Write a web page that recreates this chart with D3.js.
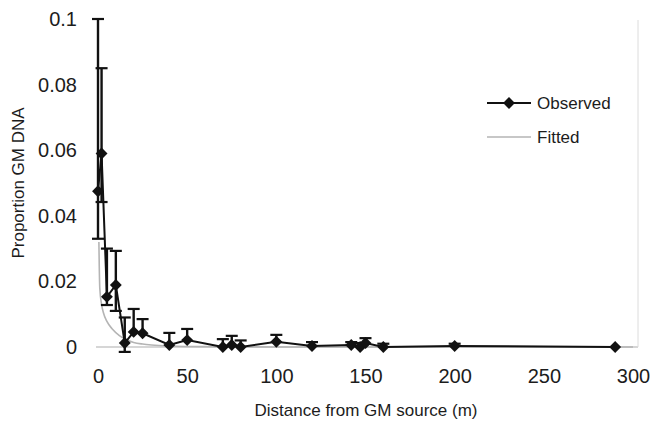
<!DOCTYPE html>
<head>
  <meta charset="utf-8">
  <script src="https://d3js.org/d3.v7.min.js"></script>
  <style>
    body { margin: 0; background: #fff; }
    svg { width: 657px; height: 423px; font-family: "Liberation Sans", Arial, sans-serif; }
  </style>
</head>

<body>
  <svg></svg>

  <script>
    // observed proportions with error bar ends
    const distance   = [0, 2, 5, 10, 15, 20, 25, 40, 50, 70, 75, 80, 100, 120, 142, 147, 150, 160, 200, 290];
    const proportion = [0.0475, 0.059, 0.0153, 0.0189, 0.0012, 0.0046, 0.0042, 0.0006, 0.0021, 0.0, 0.0006, 0.0,
                        0.0016, 0.0003, 0.0006, 0.0, 0.0012, 0.0, 0.0003, 0.0];
    const upper      = [0.1, 0.085, 0.030, 0.0293, 0.009, 0.0116, 0.0085, 0.0043, 0.0055, 0.0024, 0.0034, 0.002,
                        0.0037, 0.0015, 0.0015, 0.0012, 0.0027, 0.001, 0.001, 0.0];
    const lower      = [0.033, 0.0442, 0.0128, 0.011, -0.0015, 0.0046, 0.0042, 0.0006, 0.0021, 0.0, 0.0006, 0.0,
                        0.0016, 0.0003, 0.0006, 0.0, 0.0012, 0.0, 0.0003, 0.0];

    // fitted curve, read at a handful of distances
    const fitDistance = [0.5, 1, 2, 3, 5, 8, 12, 16, 20, 25, 30, 40, 60, 100, 200, 300];
    const fitValue    = [0.032, 0.018, 0.013, 0.0105, 0.0078, 0.0055, 0.0035, 0.0022, 0.0014, 0.0009, 0.0006,
                         0.0003, 0.0001, 0.0, 0.0, 0.0];

    const xTicks = [0, 50, 100, 150, 200, 250, 300];
    const yTicks = [0, 0.02, 0.04, 0.06, 0.08, 0.1];

    const svg = d3.select('svg');

    const x = d3.scaleLinear().domain([0, 300]).range([98, 633]);
    const y = d3.scaleLinear().domain([0, 0.1]).range([347, 19]);

    const observed = distance.map((d, i) => ({
      x: d, y: proportion[i], hi: upper[i], lo: lower[i]
    }));
    const fitted = fitDistance.map((d, i) => ({ x: d, y: fitValue[i] }));

    // plot frame: bottom axis line and right border
    svg.append('line')
      .attr('x1', x(0) - 2).attr('x2', 638)
      .attr('y1', y(0)).attr('y2', y(0))
      .attr('stroke', '#c8c8c8').attr('stroke-width', 1.5);
    svg.append('line')
      .attr('x1', 638).attr('x2', 638)
      .attr('y1', 20).attr('y2', y(0))
      .attr('stroke', '#dcdcdc').attr('stroke-width', 1);

    // axes (labels only)
    const xAxis = svg.append('g')
      .attr('transform', `translate(0,${y(0) + 19})`)
      .call(d3.axisBottom(x).tickValues(xTicks).tickSize(0).tickFormat(d3.format('d')));
    xAxis.select('.domain').remove();
    xAxis.selectAll('text')
      .attr('font-size', 20).attr('fill', '#1c1c1c')
      .attr('font-family', '"Liberation Sans", Arial, sans-serif');

    const yAxis = svg.append('g')
      .attr('transform', 'translate(80,0)')
      .call(d3.axisLeft(y).tickValues(yTicks).tickSize(0).tickFormat(d => d3.format('~g')(d)));
    yAxis.select('.domain').remove();
    yAxis.selectAll('text')
      .attr('font-size', 20).attr('fill', '#1c1c1c')
      .attr('font-family', '"Liberation Sans", Arial, sans-serif');

    // axis titles
    svg.append('text')
      .attr('x', 366).attr('y', 416)
      .attr('text-anchor', 'middle')
      .attr('font-size', 17).attr('fill', '#1c1c1c')
      .text('Distance from GM source (m)');
    svg.append('text')
      .attr('transform', 'translate(24,183)rotate(-90)')
      .attr('text-anchor', 'middle')
      .attr('font-size', 17).attr('fill', '#1c1c1c')
      .text('Proportion GM DNA');

    // fitted curve
    const fitLine = d3.line()
      .x(d => x(d.x))
      .y(d => y(d.y))
      .curve(d3.curveMonotoneX);
    svg.append('path')
      .datum(fitted)
      .attr('d', fitLine)
      .attr('fill', 'none')
      .attr('stroke', '#b4b4b4')
      .attr('stroke-width', 1.6);

    // error bars
    const bars = svg.append('g').attr('stroke', '#111');
    bars.selectAll('line.stem')
      .data(observed.filter(d => d.hi > d.lo))
      .join('line')
      .attr('class', 'stem')
      .attr('x1', d => x(d.x)).attr('x2', d => x(d.x))
      .attr('y1', d => y(d.hi)).attr('y2', d => y(d.lo))
      .attr('stroke-width', 2.4);
    const caps = [];
    observed.forEach(d => {
      if (d.hi > d.y) caps.push({ x: d.x, v: d.hi });
      if (d.lo < d.y) caps.push({ x: d.x, v: d.lo });
    });
    bars.selectAll('line.cap')
      .data(caps)
      .join('line')
      .attr('class', 'cap')
      .attr('x1', d => x(d.x) - 6).attr('x2', d => x(d.x) + 6)
      .attr('y1', d => y(d.v)).attr('y2', d => y(d.v))
      .attr('stroke-width', 2.2);

    // observed line + diamonds
    const obsLine = d3.line().x(d => x(d.x)).y(d => y(d.y));
    svg.append('path')
      .datum(observed)
      .attr('d', obsLine)
      .attr('fill', 'none')
      .attr('stroke', '#111')
      .attr('stroke-width', 2);

    const diamond = d3.symbol().type(d3.symbolDiamond2).size(90);
    svg.selectAll('path.marker')
      .data(observed)
      .join('path')
      .attr('class', 'marker')
      .attr('transform', d => `translate(${x(d.x)},${y(d.y)})`)
      .attr('d', diamond)
      .attr('fill', '#111');

    // legend
    const legend = svg.append('g').attr('font-size', 17).attr('fill', '#1c1c1c');
    legend.append('line')
      .attr('x1', 487).attr('x2', 531).attr('y1', 103).attr('y2', 103)
      .attr('stroke', '#111').attr('stroke-width', 2);
    legend.append('path')
      .attr('transform', 'translate(509,103)')
      .attr('d', diamond)
      .attr('fill', '#111');
    legend.append('text').attr('x', 537).attr('y', 109).text('Observed');
    legend.append('line')
      .attr('x1', 487).attr('x2', 531).attr('y1', 137).attr('y2', 137)
      .attr('stroke', '#b4b4b4').attr('stroke-width', 1.6);
    legend.append('text').attr('x', 537).attr('y', 143).text('Fitted');
  </script>
</body>
